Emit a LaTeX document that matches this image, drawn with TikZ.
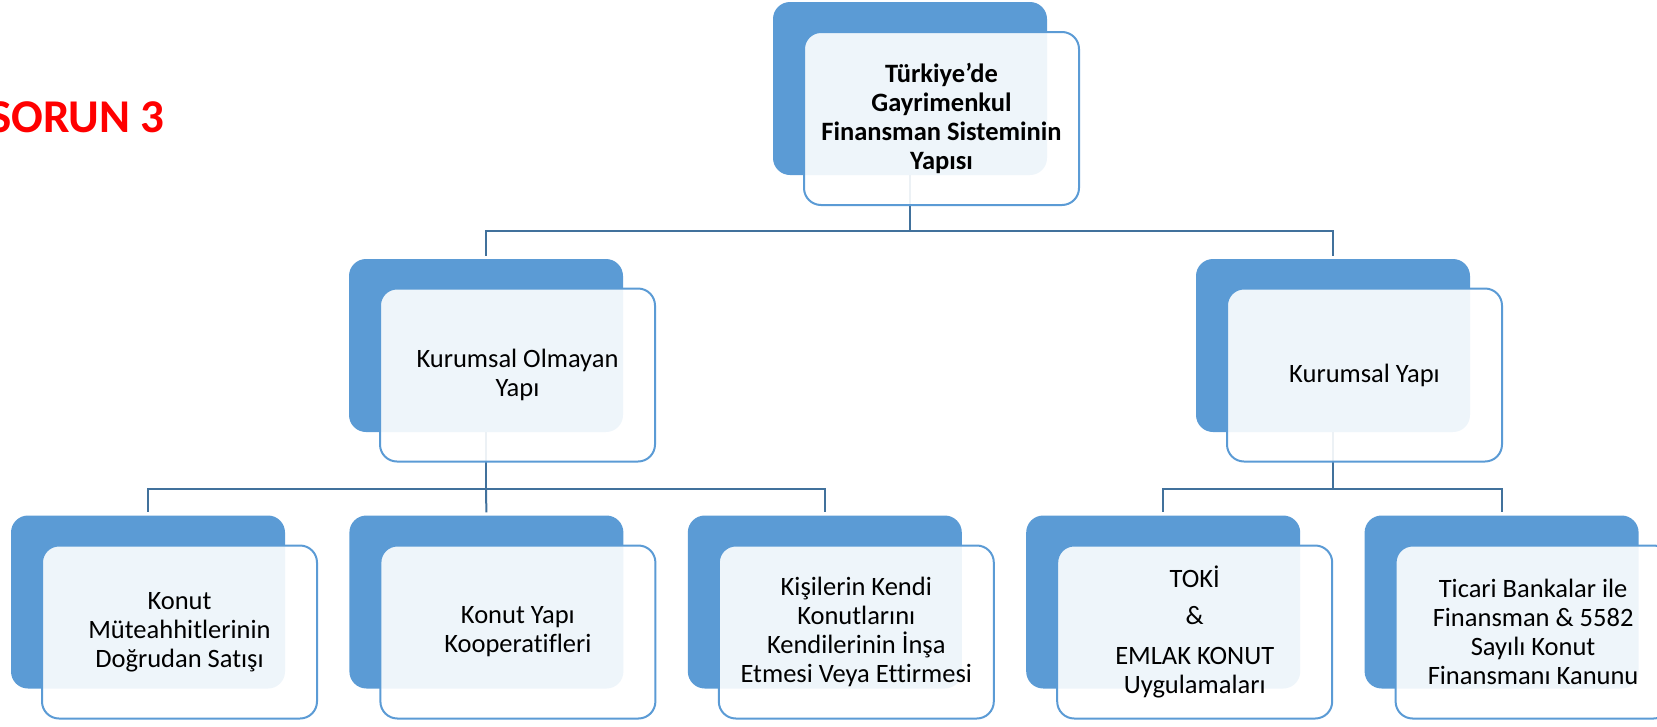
\documentclass[tikz,border=0pt]{standalone}
\usepackage{fontspec}
\setmainfont{Carlito}[Ligatures=NoCommon]
\usetikzlibrary{positioning}
\definecolor{accentblue}{HTML}{5B9BD5}
\definecolor{linkblue}{HTML}{41719C}
\tikzset{
	back/.style={fill=accentblue, rounded corners=17pt, minimum width=274pt, minimum height=173pt, inner sep=0pt},
	front/.style={draw=accentblue, line width=2pt, fill=white, fill opacity=0.9, text opacity=1, rounded corners=17pt,
		minimum width=275pt, minimum height=173pt, inner sep=0pt, align=center, font=\fontsize{26.5}{29}\selectfont},
	link/.style={draw=linkblue, line width=2pt},
}

\begin{document}
\begin{tikzpicture}[x=1pt, y=-1pt]
			%%%%% START %%%%%
			\useasboundingbox (0, 0) rectangle (1657, 726);
			
			\node[anchor=base east, text=red, font=\fontsize{47}{50}\selectfont\bfseries] (title) at (168, 132) {SORUN 3};
			
			% back shapes
			\node[back] (top-b) at (910, 88.5) {};
			\node[back] (left-b) at (486, 345.5) {};
			\node[back] (right-b) at (1333, 345.5) {};
			\node[back] (k1-b) at (148, 602) {};
			\node[back, right=64pt of k1-b] (k2-b) {};
			\node[back, right=64pt of k2-b] (k3-b) {};
			\node[back, right=64pt of k3-b] (k4-b) {};
			\node[back, right=64pt of k4-b] (k5-b) {};
			
			% connectors
			\draw[link] (top-b.south) -- ++(0, 56) coordinate (j1);
			\draw[link] (j1) -| ([yshift=3pt]left-b.north);
			\draw[link] (j1) -| ([yshift=3pt]right-b.north);
			
			\draw[link] (left-b.south) -- ++(0, 57) coordinate (j2);
			\draw[link] (j2) -| ([yshift=3pt]k1-b.north);
			\draw[link] (j2) -- ([yshift=3pt]k2-b.north);
			\draw[link] (j2) -| ([yshift=3pt]k3-b.north);
			
			\draw[link] (right-b.south) -- ++(0, 57) coordinate (j3);
			\draw[link] (j3) -| ([yshift=3pt]k4-b.north);
			\draw[link] (j3) -| ([yshift=3pt]k5-b.north);
			
			% front shapes
			\node[front, font=\fontsize{26.5}{29}\selectfont\bfseries] (top) at ([shift={(31.5, 30)}]top-b.center) {Türkiye’de\\Gayrimenkul\\Finansman Sisteminin\\Yapısı};
			\node[front] (left) at ([shift={(31.5, 29.5)}]left-b.center) {Kurumsal Olmayan\\Yapı};
			\node[front] (right) at ([shift={(31.5, 29.5)}]right-b.center) {Kurumsal Yapı};
			
			\node[front] (k1) at ([shift={(31.5, 30)}]k1-b.center) {Konut\\Müteahhitlerinin\\Doğrudan Satışı};
			\node[front] (k2) at ([shift={(31.5, 30)}]k2-b.center) {Konut Yapı\\Kooperatifleri};
			\node[front] (k3) at ([shift={(31.5, 30)}]k3-b.center) {Kişilerin Kendi\\Konutlarını\\Kendilerinin İnşa\\Etmesi Veya Ettirmesi};
			\node[front] (k4) at ([shift={(31.5, 30)}]k4-b.center) {TOKİ\\[8pt]\&\\[11pt]EMLAK KONUT\\Uygulamaları};
			\node[front] (k5) at ([shift={(31.5, 30)}]k5-b.center) {Ticari Bankalar ile\\Finansman \& 5582\\Sayılı Konut\\Finansmanı Kanunu};
			
			%%%%% END %%%%%
\end{tikzpicture}
\end{document}
